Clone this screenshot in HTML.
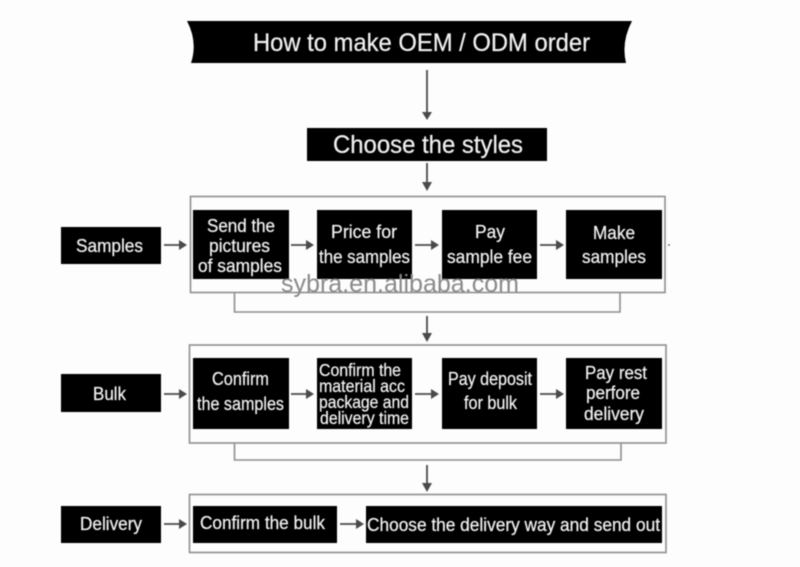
<!DOCTYPE html>
<html><head><meta charset="utf-8"><title>How to make OEM / ODM order</title>
<style>
html,body{margin:0;padding:0;background:#fdfdfd;width:800px;height:567px;overflow:hidden}
svg{display:block;filter:blur(.45px)}
text{font-family:"Liberation Sans",sans-serif;fill:#f0f0f0;font-size:18px;stroke:#f0f0f0;stroke-width:.25px}
.frame{fill:none;stroke:#8f8f8f;stroke-width:1.6}
.box{fill:#000}
.ln{stroke:#4a4a4a;stroke-width:1.8;fill:none}
.hd{fill:#4a4a4a}
</style></head><body>
<svg width="800" height="567" viewBox="0 0 800 567" xmlns="http://www.w3.org/2000/svg">
<rect width="800" height="567" fill="#fdfdfd"/>

<!-- frames and brackets -->
<rect class="frame" x="190.5" y="196.5" width="474.5" height="96"/>
<path class="frame" d="M234.5 293V312H620V293"/>
<rect class="frame" x="189.5" y="345" width="476.5" height="98"/>
<path class="frame" d="M234.5 443V460H621V443"/>
<rect class="frame" x="189.5" y="494.5" width="476.5" height="58"/>

<!-- title -->
<path class="box" d="M187 21H632Q621 42 626 63H191Q198 42 187 21Z"/>
<rect class="box" x="307" y="128" width="240" height="33"/>

<!-- samples row boxes -->
<rect class="box" x="61" y="227" width="100" height="37"/>
<rect class="box" x="193" y="210" width="96" height="69"/>
<rect class="box" x="317" y="210" width="95" height="69"/>
<rect class="box" x="442" y="210" width="95" height="69"/>
<rect class="box" x="566" y="210" width="96" height="69"/>

<!-- bulk row boxes -->
<rect class="box" x="61" y="374" width="100" height="38"/>
<rect class="box" x="193" y="358" width="96" height="71"/>
<rect class="box" x="317" y="358" width="95" height="71"/>
<rect class="box" x="442" y="358" width="95" height="71"/>
<rect class="box" x="566" y="358" width="96" height="71"/>

<!-- delivery row boxes -->
<rect class="box" x="61" y="506" width="100" height="37"/>
<rect class="box" x="193" y="506" width="144" height="37"/>
<rect class="box" x="366" y="506" width="296" height="37"/>

<!-- vertical arrows -->
<path class="ln" d="M427 70V112"/><path class="hd" d="M422 112H432L427 120Z"/>
<path class="ln" d="M427 163V183"/><path class="hd" d="M422 182H432L427 191Z"/>
<path class="ln" d="M427 316V334"/><path class="hd" d="M422 333H432L427 342Z"/>
<path class="ln" d="M427 465V484"/><path class="hd" d="M422 483H432L427 492Z"/>

<!-- horizontal arrows -->
<path class="ln" d="M164 245H180M291 245H307M415 245H432M540 245H557"/>
<path class="hd" d="M179 240L187 245L179 250ZM306 240L314 245L306 250ZM431 240L439 245L431 250ZM556 240L564 245L556 250Z"/>
<path class="ln" d="M164 394H180M291 394H307M415 394H432M540 394H557"/>
<path class="hd" d="M179 389L187 394L179 399ZM306 389L314 394L306 399ZM431 389L439 394L431 399ZM556 389L564 394L556 399Z"/>
<path class="ln" d="M164 524H180M340 524H357"/>
<path class="hd" d="M179 519L187 524L179 529ZM356 519L364 524L356 529Z"/>
<circle cx="669" cy="245" r="1" fill="#777"/>

<!-- labels -->
<text x="253" y="51" style="font-size:25px" textLength="337" lengthAdjust="spacingAndGlyphs">How to make OEM / ODM order</text>
<text x="333" y="153" style="font-size:25px" textLength="190" lengthAdjust="spacingAndGlyphs">Choose the styles</text>

<text x="76" y="252" textLength="67" lengthAdjust="spacingAndGlyphs">Samples</text>
<text x="207" y="232" textLength="68" lengthAdjust="spacingAndGlyphs">Send the</text>
<text x="209" y="252" textLength="61" lengthAdjust="spacingAndGlyphs">pictures</text>
<text x="198" y="272" textLength="84" lengthAdjust="spacingAndGlyphs">of samples</text>
<text x="331" y="238" textLength="66" lengthAdjust="spacingAndGlyphs">Price for</text>
<text x="319" y="263" textLength="91" lengthAdjust="spacingAndGlyphs">the samples</text>
<text x="475" y="238" textLength="30" lengthAdjust="spacingAndGlyphs">Pay</text>
<text x="447" y="263" textLength="85" lengthAdjust="spacingAndGlyphs">sample fee</text>
<text x="593" y="239" textLength="42" lengthAdjust="spacingAndGlyphs">Make</text>
<text x="582" y="263" textLength="64" lengthAdjust="spacingAndGlyphs">samples</text>

<text x="93" y="400" textLength="33" lengthAdjust="spacingAndGlyphs">Bulk</text>
<text x="212" y="385" textLength="57" lengthAdjust="spacingAndGlyphs">Confirm</text>
<text x="197" y="410" textLength="87" lengthAdjust="spacingAndGlyphs">the samples</text>
<text x="319" y="376" style="font-size:17.5px" textLength="82" lengthAdjust="spacingAndGlyphs">Confirm the</text>
<text x="319" y="392" style="font-size:17.5px" textLength="86" lengthAdjust="spacingAndGlyphs">material acc</text>
<text x="319" y="408" style="font-size:17.5px" textLength="90" lengthAdjust="spacingAndGlyphs">package and</text>
<text x="320" y="424" style="font-size:17.5px" textLength="89" lengthAdjust="spacingAndGlyphs">delivery time</text>
<text x="448" y="385" textLength="84" lengthAdjust="spacingAndGlyphs">Pay deposit</text>
<text x="464" y="409" textLength="53" lengthAdjust="spacingAndGlyphs">for bulk</text>
<text x="585" y="379" textLength="62" lengthAdjust="spacingAndGlyphs">Pay rest</text>
<text x="586" y="399" textLength="54" lengthAdjust="spacingAndGlyphs">perfore</text>
<text x="584" y="420" textLength="60" lengthAdjust="spacingAndGlyphs">delivery</text>

<text x="80" y="530" textLength="62" lengthAdjust="spacingAndGlyphs">Delivery</text>
<text x="200" y="529" textLength="125" lengthAdjust="spacingAndGlyphs">Confirm the bulk</text>
<text x="367" y="531" textLength="293" lengthAdjust="spacingAndGlyphs">Choose the delivery way and send out</text>

<!-- watermark -->
<text x="281" y="292" style="font-size:25px;fill:#8a8a8a;stroke:none" textLength="238" lengthAdjust="spacingAndGlyphs">sybra.en.alibaba.com</text>
</svg>
</body></html>
